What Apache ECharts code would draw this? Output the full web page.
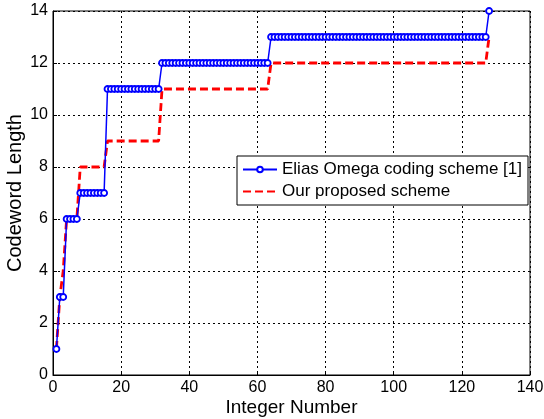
<!DOCTYPE html>
<html>
<head>
<meta charset="utf-8">
<script src="https://cdn.jsdelivr.net/npm/echarts@6/dist/echarts.min.js"></script>
<style>html,body{margin:0;padding:0;background:#fff}#c{width:544px;height:419px}</style>
</head>
<body>
<div id="c"></div>
<script>
// Integer numbers 1..128
var integers = [];
for (var i = 1; i <= 128; i++) integers.push(i);

// Elias Omega codeword lengths (n = 1..128)
var eliasOmega = [
  1, 3, 3, 6, 6, 6, 6, 7, 7, 7, 7, 7, 7, 7, 7, 11,
  11, 11, 11, 11, 11, 11, 11, 11, 11, 11, 11, 11, 11, 11, 11, 12,
  12, 12, 12, 12, 12, 12, 12, 12, 12, 12, 12, 12, 12, 12, 12, 12,
  12, 12, 12, 12, 12, 12, 12, 12, 12, 12, 12, 12, 12, 12, 12, 13,
  13, 13, 13, 13, 13, 13, 13, 13, 13, 13, 13, 13, 13, 13, 13, 13,
  13, 13, 13, 13, 13, 13, 13, 13, 13, 13, 13, 13, 13, 13, 13, 13,
  13, 13, 13, 13, 13, 13, 13, 13, 13, 13, 13, 13, 13, 13, 13, 13,
  13, 13, 13, 13, 13, 13, 13, 13, 13, 13, 13, 13, 13, 13, 13, 14
];

// Proposed scheme codeword lengths (n = 1..128)
var proposed = [
  1, 3, 4, 6, 6, 6, 6, 8, 8, 8, 8, 8, 8, 8, 8, 9,
  9, 9, 9, 9, 9, 9, 9, 9, 9, 9, 9, 9, 9, 9, 9, 11,
  11, 11, 11, 11, 11, 11, 11, 11, 11, 11, 11, 11, 11, 11, 11, 11,
  11, 11, 11, 11, 11, 11, 11, 11, 11, 11, 11, 11, 11, 11, 11, 12,
  12, 12, 12, 12, 12, 12, 12, 12, 12, 12, 12, 12, 12, 12, 12, 12,
  12, 12, 12, 12, 12, 12, 12, 12, 12, 12, 12, 12, 12, 12, 12, 12,
  12, 12, 12, 12, 12, 12, 12, 12, 12, 12, 12, 12, 12, 12, 12, 12,
  12, 12, 12, 12, 12, 12, 12, 12, 12, 12, 12, 12, 12, 12, 12, 13
];

var seriesNames = ['Elias Omega coding scheme [1]', 'Our proposed scheme'];
var xTicks = [0, 20, 40, 60, 80, 100, 120, 140];
var yTicks = [0, 2, 4, 6, 8, 10, 12, 14];

function pairs(vals) {
  return integers.map(function (x, k) { return [x, vals[k]]; });
}

var FONT = 'Liberation Sans, Arial, sans-serif';
var chart = echarts.init(document.getElementById('c'), null, { renderer: 'canvas' });
var gridLine = { show: true, lineStyle: { color: '#000', type: [2, 3], width: 1 } };

chart.setOption({
  animation: false,
  backgroundColor: '#fff',
  grid: {
    left: 53, right: 14, top: 11, bottom: 44, show: true,
    borderColor: '#000', borderWidth: 1, backgroundColor: 'transparent',
    containLabel: false, outerBoundsMode: 'none'
  },
  xAxis: {
    type: 'value', min: xTicks[0], max: xTicks[xTicks.length - 1], interval: 20,
    name: 'Integer Number', nameLocation: 'middle', nameGap: 23, nameMoveOverlap: false,
    nameTextStyle: { fontFamily: FONT, fontSize: 19, color: '#000' },
    axisLine: { show: true, lineStyle: { color: '#000', width: 1 } },
    axisTick: { show: true, inside: true, length: 4, lineStyle: { color: '#000' } },
    axisLabel: { fontFamily: FONT, fontSize: 16, color: '#000', margin: 5 },
    splitLine: gridLine
  },
  yAxis: {
    type: 'value', min: yTicks[0], max: yTicks[yTicks.length - 1], interval: 2,
    name: 'Codeword Length', nameLocation: 'middle', nameGap: 28, nameRotate: 90, nameMoveOverlap: false,
    nameTextStyle: { fontFamily: FONT, fontSize: 20, color: '#000' },
    axisLine: { show: true, lineStyle: { color: '#000', width: 1 } },
    axisTick: { show: true, inside: true, length: 4, lineStyle: { color: '#000' } },
    axisLabel: { fontFamily: FONT, fontSize: 16, color: '#000', margin: 5 },
    splitLine: gridLine
  },
  legend: {
    orient: 'vertical', left: 237, top: 156,
    backgroundColor: '#fff', borderColor: '#000', borderWidth: 1,
    padding: [5, 6, 5, 5], itemGap: 5, itemWidth: 34, itemHeight: 7,
    textStyle: { fontFamily: FONT, fontSize: 17, color: '#000' },
    data: [seriesNames[0], { name: seriesNames[1], itemStyle: { opacity: 0 } }]
  },
  series: [
    {
      name: seriesNames[1], type: 'line', data: pairs(proposed), symbol: 'none',
      lineStyle: { color: '#ff0000', width: 2.8, type: [8, 4] }, itemStyle: { color: '#ff0000' },
      z: 2
    },
    {
      name: seriesNames[0], type: 'line', data: pairs(eliasOmega),
      symbol: 'circle', symbolSize: 6, showAllSymbol: true,
      lineStyle: { color: '#0000ff', width: 1.5 },
      itemStyle: { color: '#fff', borderColor: '#0000ff', borderWidth: 1.8 },
      z: 3
    }
  ]
});
</script>
</body>
</html>
